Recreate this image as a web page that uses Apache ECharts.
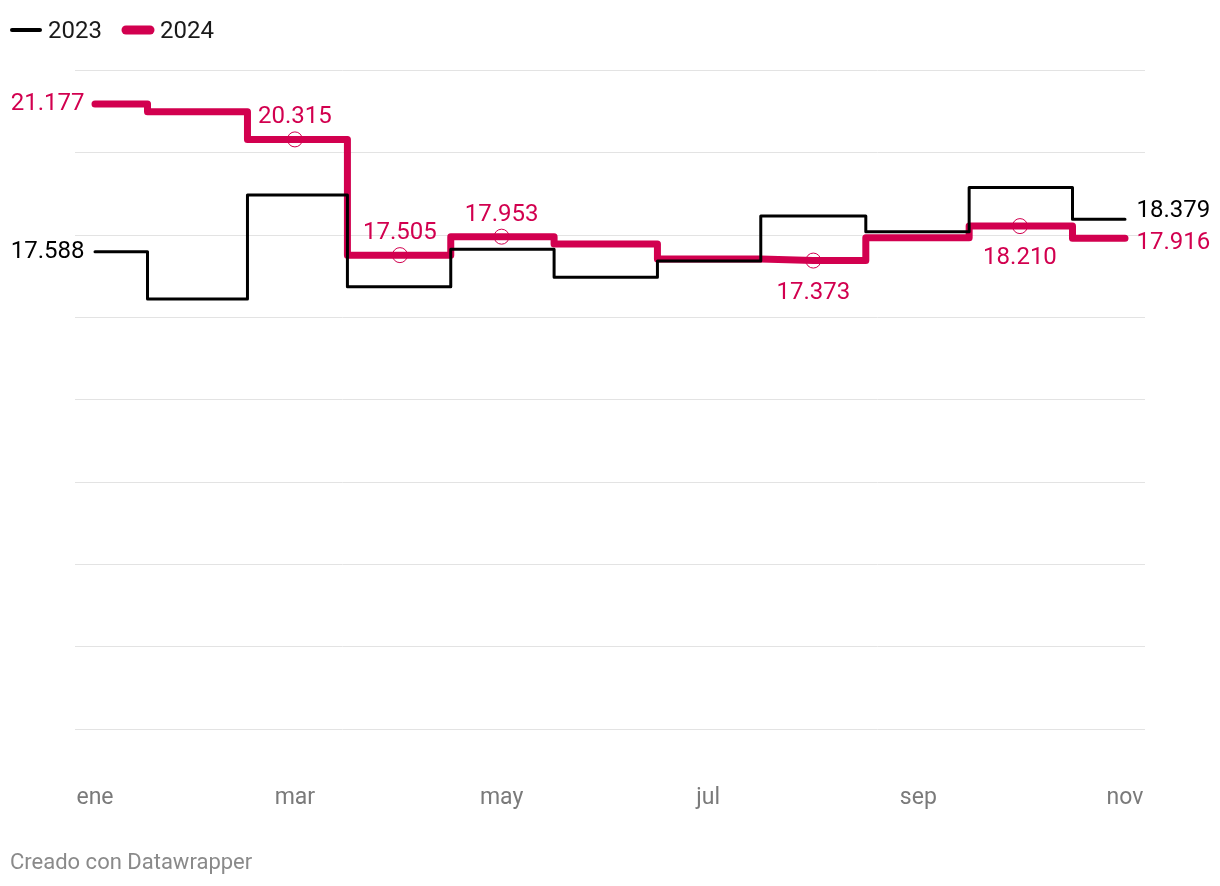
<!DOCTYPE html>
<html>
<head>
<meta charset="utf-8">
<script src="https://cdn.jsdelivr.net/npm/echarts@6/dist/echarts.min.js"></script>
<style>
html,body{margin:0;padding:0;background:#fff;}
#chart{width:1220px;height:886px;}
</style>
</head>
<body>
<div id="chart"></div>
<script>
// ---- data ----
const dates = ['2023-01-01','2023-02-01','2023-03-01','2023-04-01','2023-05-01','2023-06-01',
               '2023-07-01','2023-08-01','2023-09-01','2023-10-01','2023-11-01'];
const values2023 = [17.588, 16.44, 18.965, 16.74, 17.646, 16.966, 17.36, 18.455, 18.07, 19.15, 18.379];
const values2024 = [21.177, 20.988, 20.315, 17.505, 17.953, 17.775, 17.41, 17.373, 17.93, 18.210, 17.916];
const tickDates = ['2023-01-01','2023-03-01','2023-05-01','2023-07-01','2023-09-01','2023-11-01'];
const tickLabels = ['ene','mar','may','jul','sep','nov'];
const seriesNames = ['2023','2024'];

// labelled points: index -> [position, circle marker?, vertical nudge]
const labels2024 = {0:['left',false,0],2:['top',true,0],3:['top',true,0],4:['top',true,0],7:['bottom',true,0],9:['bottom',true,0],10:['right',false,5]};
const labels2023 = {0:['left',false,0],10:['right',false,-8]};

const RED = '#d2004f';
const BLACK = '#000000';
const FONT = 'Roboto, "Noto Sans", sans-serif';
const DAY = 86400000;

// day offset since first date (date axis expressed in days)
function day(s){ const p = s.split('-').map(Number); const b = dates[0].split('-').map(Number);
  return Math.round((Date.UTC(p[0],p[1]-1,p[2]) - Date.UTC(b[0],b[1]-1,b[2]))/DAY); }
function fmt(v){ return v.toFixed(3); }

function build(vals, labels, color){
  return vals.map((v,i)=>{
    const item = {value:[day(dates[i]), v], symbol:'none'};
    const L = labels[i];
    if (L){
      const pos = L[0], circle = L[1];
      item.symbol = 'circle';
      item.symbolSize = circle ? 15 : 1;
      item.itemStyle = circle ? {color:'rgba(255,255,255,0)', borderColor:color, borderWidth:1} : {color:color};
      let dist = 8;
      if (pos==='top') dist = 2;
      if (pos==='bottom') dist = 12;
      if (pos==='left') dist = 10;
      if (pos==='right') dist = 11;
      item.label = {show:true, position:pos, distance:dist, offset:[0, L[2]], formatter:()=>fmt(v),
        color:color, fontSize:24, fontFamily:FONT};
    }
    return item;
  });
}

const x0 = day(dates[0]), x1 = day(dates[dates.length-1]);
const pad = (x1-x0)*20/1030;
const tickPos = tickDates.map(day);

const chart = echarts.init(document.getElementById('chart'), null, {renderer:'canvas'});
chart.setOption({
  animation:false,
  backgroundColor:'#ffffff',
  textStyle:{fontFamily:FONT},
  grid:{left:75, right:75, top:70, bottom:157},
  xAxis:{
    type:'value', min:x0-pad, max:x1+pad,
    axisLine:{show:false}, axisTick:{show:false}, splitLine:{show:false},
    axisLabel:{
      customValues: tickPos,
      formatter:(val)=>{ const i = tickPos.indexOf(Math.round(val)); return i>=0 ? tickLabels[i] : ''; },
      color:'#7a7a7a', fontSize:23, fontFamily:FONT, margin:58
    }
  },
  yAxis:{
    type:'value', min:6, max:22, interval:2,
    axisLabel:{show:false}, axisLine:{show:false}, axisTick:{show:false},
    splitLine:{show:true, lineStyle:{color:'#e3e3e3', width:1}}
  },
  series:[
    {
      name:seriesNames[1], type:'line', step:'middle', z:2,
      data: build(values2024, labels2024, RED),
      lineStyle:{color:RED, width:7, cap:'round', join:'round'},
      itemStyle:{color:RED},
      emphasis:{disabled:true}
    },
    {
      name:seriesNames[0], type:'line', step:'middle', z:3,
      data: build(values2023, labels2023, BLACK),
      lineStyle:{color:BLACK, width:3, cap:'round', join:'round'},
      itemStyle:{color:BLACK},
      emphasis:{disabled:true}
    }
  ],
  graphic:[
    {type:'line', shape:{x1:12, y1:30, x2:40, y2:30}, style:{stroke:BLACK, lineWidth:4, lineCap:'round'}},
    {type:'text', x:48, y:32, style:{text:seriesNames[0], fill:'#1a1a1a', fontSize:24, fontFamily:FONT, verticalAlign:'middle'}},
    {type:'line', shape:{x1:126, y1:30, x2:150, y2:30}, style:{stroke:RED, lineWidth:9, lineCap:'round'}},
    {type:'text', x:160, y:32, style:{text:seriesNames[1], fill:'#1a1a1a', fontSize:24, fontFamily:FONT, verticalAlign:'middle'}},
    {type:'text', x:10, y:863, style:{text:'Creado con Datawrapper', fill:'#8a8a8a', fontSize:22, fontFamily:FONT, verticalAlign:'middle'}}
  ]
});
</script>
</body>
</html>
